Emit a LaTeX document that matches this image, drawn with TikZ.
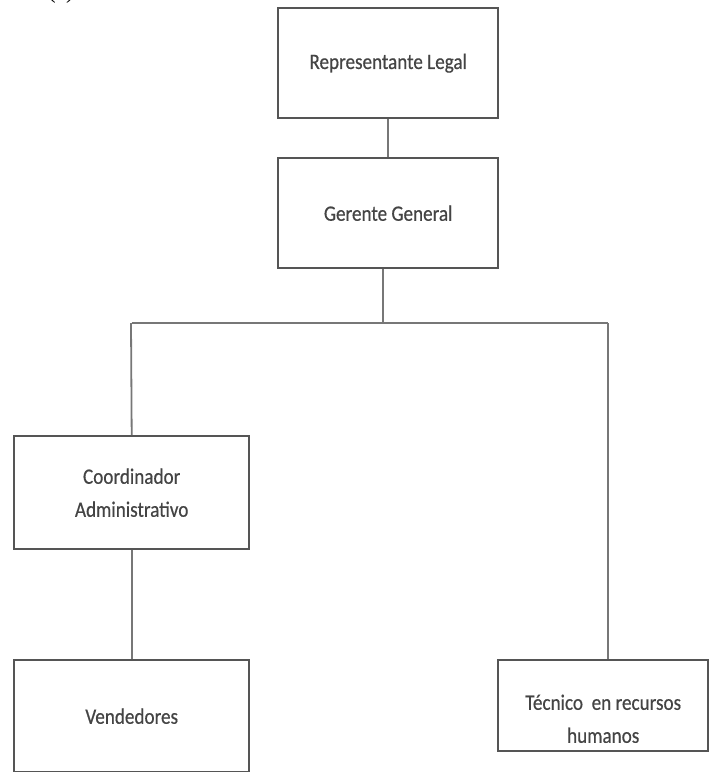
\documentclass[tikz,border=0pt]{standalone}
\usepackage{fontspec}
\setmainfont{Carlito}[FakeStretch=0.87]
\newfontfamily\boxfont{Carlito}[FakeStretch=0.87,FakeBold=0.5]
\newfontfamily\serifcut{Liberation Serif}
\definecolor{boxgray}{HTML}{555555}
\definecolor{linegray}{HTML}{777777}
\definecolor{txtgray}{HTML}{444444}
\begin{document}
\begin{tikzpicture}[x=1pt,y=-1pt,
  box/.style={draw=boxgray, line width=2.4pt, rectangle, inner sep=0pt,
    text=txtgray, font=\boxfont\fontsize{22}{33}\selectfont, align=center, anchor=north west},
  link/.style={draw=linegray, line width=1.8pt}]
\useasboundingbox (0,0) rectangle (709,772);
\node[font=\serifcut\fontsize{23}{23}\selectfont, anchor=base] (lbl) at (61,-2) {(a)};
\node[box, minimum width=220pt, minimum height=110pt] (rl) at (277,7) {Representante Legal};
\node[box, minimum width=220pt, minimum height=110pt] (gg) at (277,157) {Gerente General};
\node[box, minimum width=235pt, minimum height=113pt] (ca) at (13,435) {Coordinador\\Administrativo};
\node[box, minimum width=235pt, minimum height=112pt] (ve) at (13,659) {Vendedores};
\node[box, minimum width=210pt, minimum height=91pt] (tr) at (497,659)
  {\raisebox{-14pt}[\height][\depth]{\begin{tabular}{@{}c@{}}Técnico~~en recursos\\humanos\end{tabular}}};
\coordinate (j) at (383,323);
\coordinate (jl) at (131,323);
\coordinate (jr) at (608,323);
\draw[link] (rl.south) -- (gg.north);
\draw[link] (gg.south -| j) -- (j);
\draw[link] (ca.north |- jl) -- (jr);
\draw[link] (jl) -- (ca.north);
\draw[link] (jr) -- (tr.north -| jr);
\draw[link] (ca.south) -- (ve.north);
\end{tikzpicture}
\end{document}
